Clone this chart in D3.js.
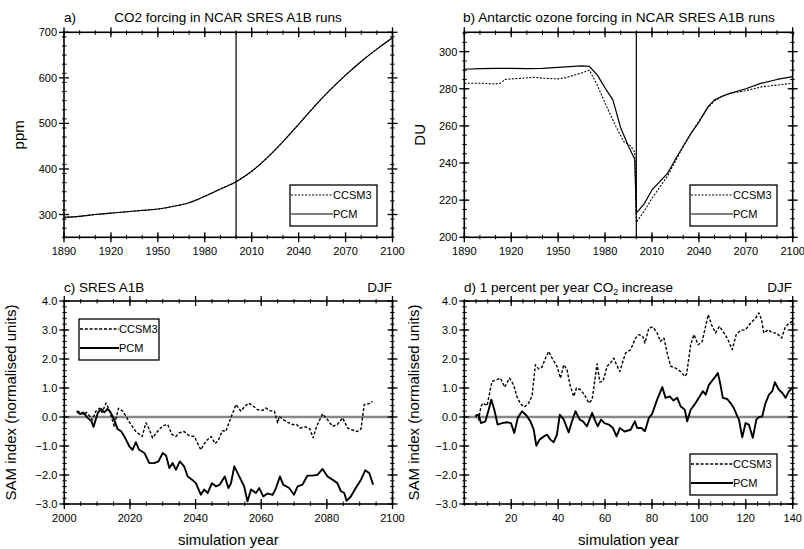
<!DOCTYPE html>
<html><head><meta charset="utf-8">
<script src="https://cdn.jsdelivr.net/npm/d3@7"></script>
<style>
html,body{margin:0;padding:0;background:#fff;}
text{font-family:"Liberation Sans",Arial,Helvetica,sans-serif;fill:#000;}
</style></head><body>
<svg id="c" width="804" height="549"></svg>
<script>
// ---------- DATA ----------
// Panel a: CO2 forcing (ppm)
const co2Years = [1890,1900,1910,1920,1930,1940,1950,1960,1970,1980,1990,2000,2010,2020,2030,2040,2050,2060,2070,2080,2090,2100];
const co2Ccsm3 = [294,296,300,303,306,309,312,318,326,340,356,372,395,425,460,498,537,573,606,636,663,688];
const co2Pcm   = [294,296,300,303,306,309,312,318,326,340,356,372,395,425,460,498,537,573,606,636,663,688];
const aXTicks = [1890,1920,1950,1980,2010,2040,2070,2100];
const aYTicks = [300,400,500,600,700];

// Panel b: Antarctic ozone forcing (DU)
const o3PcmYears = [1890,1900,1910,1920,1930,1940,1950,1960,1965,1970,1975,1980,1985,1990,1995,1999,2000,2005,2010,2015,2020,2025,2030,2035,2040,2046,2050,2055,2060,2070,2080,2090,2100];
const o3Pcm      = [290.5,290.8,291,291,290.8,291,291.5,292,292.3,292,287.5,280.5,274,259,249,242,213,218,225.5,230,234.5,242,249,256,262,270.5,274,276,277.5,280,283,285,286.5];
const o3CcsmYears = [1890,1900,1910,1913,1916,1920,1926,1935,1940,1950,1955,1961,1965,1970,1975,1981,1987,1992,1996,1999,2000,2005,2010,2015,2020,2025,2030,2035,2040,2046,2050,2055,2060,2070,2080,2090,2100];
const o3Ccsm3     = [283,283,282.6,283,285,285.3,285.6,286.2,285.7,285.3,286,287.5,288.5,290,282,270.4,259.6,251.5,249.5,246,208,214,221,227,233,241,249,256,262.5,270,273.5,276,277.5,279,281,282,283];
const bXTicks = [1890,1920,1950,1980,2010,2040,2070,2100];
const bYTicks = [200,220,240,260,280,300];

// Panel c: SAM index, SRES A1B (DJF)
const cCcsmYears = [2003.8,2005.1,2006,2006.8,2007.6,2008.6,2009.6,2010.7,2011.5,2012.7,2013.7,2015.2,2016.5,2017.8,2018.8,2020.3,2021.8,2023.7,2024.9,2025.7,2026.9,2028.4,2030,2031.5,2032.8,2034,2035,2036.5,2038,2039.6,2041.6,2043.1,2044.7,2046,2047,2048.2,2049.2,2050.5,2052.3,2053.8,2054.8,2056.1,2057.4,2058.9,2060.4,2061.4,2062.6,2064,2065,2065.5,2066.7,2068,2069.5,2070.8,2071.8,2073.6,2074.8,2075.8,2076.9,2078.7,2080.2,2081.7,2083.2,2084.8,2086.3,2087.6,2089.3,2090.4,2091.4,2092.9,2093.9];
const cCcsm3     = [0.2,0.16,0.08,0.16,0.05,-0.1,0.2,0.3,0.16,0.48,0.25,-0.32,0.3,0.2,0.02,-0.26,-0.5,-0.67,-0.2,-0.38,-0.72,-0.5,-0.3,-0.26,-0.6,-0.67,-0.55,-0.5,-0.64,-0.67,-1.13,-0.84,-0.67,-0.92,-0.78,-0.47,-0.5,-0.1,0.43,0.2,0.34,0.48,0.39,0.25,0.23,0.31,0.22,0.2,-0.2,0.02,-0.09,-0.18,-0.26,-0.26,-0.38,-0.34,-0.41,-0.72,-0.32,0.11,-0.09,-0.32,-0.26,-0.03,-0.38,-0.44,-0.5,-0.41,0.43,0.46,0.54];
const cPcmYears = [2003.8,2004.8,2005.8,2007.1,2008.3,2008.9,2010.2,2011.2,2012.2,2013.2,2014.2,2015.2,2016.2,2017.3,2018.3,2019.8,2020.8,2021.8,2022.8,2024.4,2025.9,2027.4,2028.7,2030,2031,2032,2033,2034,2035.2,2036.5,2037.6,2038.9,2040.1,2041.6,2042.6,2043.7,2045,2046.2,2047.4,2048.9,2050,2050.8,2051.8,2053.3,2054.8,2055.8,2056.9,2058.4,2059.4,2060.6,2061.9,2063.5,2064.5,2065.7,2066.7,2068.5,2070,2071.1,2072.6,2074.1,2075.6,2077.2,2078.7,2080.2,2081.7,2083.2,2084.3,2085.3,2086,2087.3,2088.8,2090.4,2091.7,2092.9,2094.1];
const cPcm      = [0.2,0.1,0.16,-0.03,-0.15,-0.34,0.14,0.28,0.16,0.28,0.14,-0.09,-0.41,-0.49,-0.67,-1.01,-1.13,-0.87,-1.13,-1.24,-1.59,-1.59,-1.53,-1.24,-1.33,-1.76,-1.59,-1.82,-1.53,-1.7,-2.05,-2.16,-2.28,-2.68,-2.5,-2.62,-2.28,-2.39,-2.33,-2.05,-2.45,-2.28,-1.7,-2.05,-2.39,-2.91,-2.5,-2.62,-2.45,-2.74,-2.64,-2.68,-2.45,-2.05,-2.33,-2.45,-2.68,-2.39,-2.33,-2.02,-2.02,-1.99,-1.79,-2.05,-2.16,-2.28,-2.56,-2.62,-2.89,-2.74,-2.45,-2.16,-1.84,-1.93,-2.33];
const cXTicks = [2000,2020,2040,2060,2080,2100];
const samYTicks = [-3,-2,-1,0,1,2,3,4];

// Panel d: SAM index, 1%/yr CO2 increase (DJF)
const dCcsmYears = [4.7,6.1,7.1,8,9.7,11.8,13.9,15.4,17.2,19.3,21,22.5,23.9,25.6,27.5,28.9,30.3,31.7,33.1,34.6,36,37.4,39.5,41,42.4,43.8,45.2,46.7,47.8,49.5,51.2,53.1,54.5,56.6,57.8,59.2,60.9,62.3,63.7,64.9,66.3,68.7,70.9,73,74.4,76.1,77,78.7,80.4,82.2,83.6,85.1,86.5,88,90,92.2,94,94.8,96.5,97.9,99.7,101.4,104,105.4,107.1,108.8,110.7,112.1,114.2,115.9,117.8,119.9,122.1,124.2,125.6,126.7,127.7,129.6,131.3,133,135.3,136.7,138.4,139.9];
const dCcsm3     = [0.05,-0.1,0.37,0.48,0.39,1.23,1.29,1.34,1.03,1.34,1.11,0.69,0.46,0.34,0.48,0.74,1.8,1.66,1.72,2.03,2.26,2.03,1.75,1.34,1.8,1.63,1.06,0.71,1.0,0.94,0.77,0.48,0.6,1.83,1.2,1.25,1.75,1.86,2.03,1.8,1.57,2.2,2.32,2.72,2.84,2.78,2.55,3.07,3.1,2.9,2.6,2.72,2.2,1.75,1.69,1.57,1.4,1.49,2.49,2.84,2.49,2.6,3.53,3.18,2.9,3.13,2.9,2.72,2.32,2.84,2.99,3.01,3.24,3.41,3.59,3.36,2.9,3.01,2.9,2.9,2.72,3.07,3.24,3.3];
const dPcmYears = [4.7,6.1,7.1,9,10.4,11.5,12.8,14.2,16.1,18.2,19.9,21.3,22.8,24.6,26.5,28.2,29.6,30.7,32.1,33.9,35.3,36.7,38.1,39.5,40.7,42.4,44.5,45.9,47.4,49.2,50.6,52.3,54.5,55.9,56.9,58.3,59.7,61.6,63.4,64.9,66.3,68.3,70.9,72.7,73.7,75.5,77,78.7,80.1,82.2,84.4,85.8,87.6,89.1,90.8,92.2,94,95,96.5,98.6,100,101.7,102.9,104.3,106,107.1,108.1,109.2,110.2,112.1,113.5,114.9,116.4,117.1,118.5,119.9,121.3,123,124.5,125.6,127,128.4,129.9,131.3,132.4,134.1,135.6,137,138.4,139.9];
const dPcm      = [0.05,0.08,-0.21,-0.15,0.25,0.6,0.25,-0.26,-0.21,-0.18,-0.21,-0.55,-0.03,0.2,0.05,-0.15,-0.44,-0.99,-0.78,-0.67,-0.61,-0.78,-0.87,-0.61,0.08,-0.09,-0.53,-0.15,0.2,-0.09,-0.15,-0.32,0.14,-0.15,-0.32,-0.09,-0.21,-0.26,-0.38,-0.67,-0.38,-0.5,-0.44,-0.15,-0.38,-0.38,-0.49,-0.03,0.11,0.6,1.03,0.66,0.71,0.57,0.66,0.37,0.25,-0.15,0.25,0.48,0.66,0.89,0.77,1.11,1.29,1.4,1.52,1.11,0.66,0.62,0.48,0.31,0.02,-0.09,-0.7,-0.21,-0.26,-0.72,-0.09,0,0.02,0.48,0.77,0.89,1.2,0.94,0.83,0.66,0.89,1.0];
const dXTicks = [20,40,60,80,100,120,140];

const legendLabels = ["CCSM3","PCM"];

// ---------- DRAWING ----------
const svg = d3.select("#c");

function zip(xs, ys){ return xs.map((v,i)=>[v, ys[i]]); }

function panel(o){
  const x = d3.scaleLinear().domain(o.xd).range([o.l, o.r]);
  const y = d3.scaleLinear().domain(o.yd).range([o.b, o.t]);
  const g = svg.append("g");
  const clipId = "clip"+o.id;
  svg.append("clipPath").attr("id",clipId).append("rect")
     .attr("x",o.l).attr("y",o.t).attr("width",o.r-o.l).attr("height",o.b-o.t);

  const inner = g.append("g").attr("clip-path","url(#"+clipId+")");
  if (o.zero) {
    inner.append("line").attr("x1",o.l).attr("x2",o.r).attr("y1",y(0)).attr("y2",y(0))
      .attr("stroke","#888").attr("stroke-width",2.4);
  }
  if (o.vline !== undefined) {
    inner.append("line").attr("x1",x(o.vline)).attr("x2",x(o.vline)).attr("y1",o.t).attr("y2",o.b)
      .attr("stroke","#000").attr("stroke-width",1.2);
  }
  const line = d3.line().x(d=>x(d[0])).y(d=>y(d[1])).curve(o.curve || d3.curveLinear);
  o.series.forEach(s=>{
    inner.append("path").datum(s.data).attr("d",line).attr("fill","none")
      .attr("stroke","#000").attr("stroke-width",s.w).attr("stroke-dasharray",s.dash||null)
      .attr("stroke-linejoin","round");
  });

  // frame
  g.append("rect").attr("x",o.l).attr("y",o.t).attr("width",o.r-o.l).attr("height",o.b-o.t)
    .attr("fill","none").attr("stroke","#000").attr("stroke-width",1.6);

  // ticks (crossing the frame)
  const tk = g.append("g").attr("stroke","#000");
  const xMinor = d3.range(o.xd[0], o.xd[1]+1e-9, o.xm);
  const yMinor = d3.range(o.yd[0], o.yd[1]+1e-9, o.ym);
  xMinor.forEach(v=>{
    const px = x(v);
    tk.append("line").attr("x1",px).attr("x2",px).attr("y1",o.b-2.5).attr("y2",o.b+2).attr("stroke-width",1);
    tk.append("line").attr("x1",px).attr("x2",px).attr("y1",o.t-2).attr("y2",o.t+2.5).attr("stroke-width",1);
  });
  yMinor.forEach(v=>{
    const py = y(v);
    tk.append("line").attr("x1",o.l-2).attr("x2",o.l+2.5).attr("y1",py).attr("y2",py).attr("stroke-width",1);
    tk.append("line").attr("x1",o.r-2.5).attr("x2",o.r+2).attr("y1",py).attr("y2",py).attr("stroke-width",1);
  });
  o.xt.forEach(v=>{
    const px = x(v);
    tk.append("line").attr("x1",px).attr("x2",px).attr("y1",o.b-5).attr("y2",o.b+5).attr("stroke-width",1.3);
    tk.append("line").attr("x1",px).attr("x2",px).attr("y1",o.t-5).attr("y2",o.t+5).attr("stroke-width",1.3);
  });
  o.yt.forEach(v=>{
    const py = y(v);
    tk.append("line").attr("x1",o.l-5).attr("x2",o.l+5).attr("y1",py).attr("y2",py).attr("stroke-width",1.3);
    tk.append("line").attr("x1",o.r-5).attr("x2",o.r+5).attr("y1",py).attr("y2",py).attr("stroke-width",1.3);
  });

  // tick labels
  o.xt.forEach(v=>{
    g.append("text").attr("x",x(v)).attr("y",o.b+18).attr("text-anchor","middle")
      .attr("font-size",11).text(o.xf ? o.xf(v) : v);
  });
  o.yt.forEach(v=>{
    g.append("text").attr("x",o.l-7).attr("y",y(v)+4).attr("text-anchor","end")
      .attr("font-size",11).text(o.yf ? o.yf(v) : v);
  });

  // axis titles
  if (o.ytitle) {
    g.append("text").attr("transform","translate("+o.ytx+","+((o.t+o.b)/2)+") rotate(-90)")
      .attr("text-anchor","middle").attr("font-size",15).text(o.ytitle);
  }
  if (o.xtitle) {
    g.append("text").attr("x",(o.l+o.r)/2).attr("y",o.b+41).attr("text-anchor","middle")
      .attr("font-size",15).text(o.xtitle);
  }

  // legend
  const L = o.legend;
  g.append("rect").attr("x",L.x).attr("y",L.y).attr("width",L.w).attr("height",L.h)
    .attr("fill","#fff").attr("stroke","#000").attr("stroke-width",1.3);
  o.series.forEach((s,i)=>{
    const ly = L.y + 10 + i*19;
    g.append("line").attr("x1",L.x+1).attr("x2",L.x+L.lw).attr("y1",ly).attr("y2",ly)
      .attr("stroke","#000").attr("stroke-width",s.w).attr("stroke-dasharray",s.dash||null);
    g.append("text").attr("x",L.x+L.lw).attr("y",ly+4).attr("font-size",11).text(legendLabels[i]);
  });
  return {x,y,g};
}

// Panel a
panel({id:"a", l:64, r:392.5, t:32.3, b:237.3, xd:[1890,2100], yd:[250,700],
  xt:aXTicks, yt:aYTicks, xm:10, ym:20, vline:2000, curve:d3.curveMonotoneX,
  series:[{data:zip(co2Years,co2Ccsm3), w:1.1, dash:"2,1.5"},{data:zip(co2Years,co2Pcm), w:1.1}],
  ytitle:"ppm", ytx:24,
  legend:{x:290, y:185, w:87, h:41, lw:43}});
svg.append("text").attr("x",64).attr("y",22).attr("font-size",13.5).text("a)");
svg.append("text").attr("x",228).attr("y",22).attr("font-size",13.5).attr("text-anchor","middle")
  .text("CO2 forcing in NCAR SRES A1B runs");

// Panel b
panel({id:"b", l:464.3, r:792.7, t:32.3, b:237.3, xd:[1890,2100], yd:[200,310.4],
  xt:bXTicks, yt:bYTicks, xm:10, ym:5, vline:2000,
  series:[{data:zip(o3CcsmYears,o3Ccsm3), w:1.1, dash:"2,1.5"},{data:zip(o3PcmYears,o3Pcm), w:1.2}],
  ytitle:"DU", ytx:425,
  legend:{x:690, y:185, w:87, h:41, lw:43}});
svg.append("text").attr("x",463).attr("y",22).attr("font-size",13.7)
  .text("b)  Antarctic ozone forcing in NCAR SRES A1B runs");

const f1 = d3.format(".1f");
// Panel c
panel({id:"c", l:64.3, r:392.5, t:301, b:504, xd:[2000,2100], yd:[-3,4],
  xt:cXTicks, yt:samYTicks, xm:5, ym:0.2, zero:true, yf:f1,
  series:[{data:zip(cCcsmYears,cCcsm3), w:1.4, dash:"3,1.8"},{data:zip(cPcmYears,cPcm), w:1.9}],
  ytitle:"SAM index (normalised units)", ytx:16, xtitle:"simulation year",
  legend:{x:79, y:319, w:80, h:41, lw:40}});
svg.append("text").attr("x",64).attr("y",292).attr("font-size",13.5).text("c) SRES A1B");
svg.append("text").attr("x",392).attr("y",292).attr("font-size",13.5).attr("text-anchor","end").text("DJF");

// Panel d
panel({id:"d", l:464.3, r:792.7, t:301, b:504, xd:[0,140], yd:[-3,4],
  xt:dXTicks, yt:samYTicks, xm:5, ym:0.2, zero:true, yf:f1,
  series:[{data:zip(dCcsmYears,dCcsm3), w:1.4, dash:"3,1.8"},{data:zip(dPcmYears,dPcm), w:1.9}],
  ytitle:"SAM index (normalised units)", ytx:418.5, xtitle:"simulation year",
  legend:{x:690, y:454, w:87, h:41, lw:43}});
const dt = svg.append("text").attr("x",464).attr("y",292).attr("font-size",13.5);
dt.append("tspan").text("d) 1 percent per year CO");
dt.append("tspan").attr("font-size",9).attr("dy",3).text("2");
dt.append("tspan").attr("dy",-3).text(" increase");
svg.append("text").attr("x",792).attr("y",292).attr("font-size",13.5).attr("text-anchor","end").text("DJF");
</script>
</body></html>
